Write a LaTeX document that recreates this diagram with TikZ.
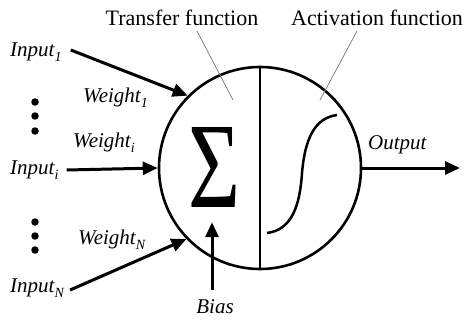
\documentclass[tikz,border=0pt]{standalone}
\usepackage{fontspec}
\setmainfont{Liberation Serif}
\usetikzlibrary{arrows.meta}
\newcommand\mysub[1]{\raisebox{-5pt}{\fontsize{14}{14}\selectfont\itshape #1}}
\tikzset{
  lbl/.style={inner sep=0pt, font=\fontsize{22}{26}\selectfont},
  ilbl/.style={inner sep=0pt, font=\fontsize{21}{25}\selectfont\itshape},
  arr/.style={line width=3pt, -{Triangle[length=15pt,width=13pt]}},
  leader/.style={gray, line width=0.8pt},
  dotnode/.style={circle, fill=black, inner sep=0pt, minimum size=7.5pt},
}
\begin{document}
\begin{tikzpicture}[x=1pt,y=-1pt]
\useasboundingbox (0,0) rectangle (469,321);
% neuron body
\node[circle, draw, line width=2.6pt, minimum size=202pt, inner sep=0pt] (neuron) at (260,168) {};
\draw[line width=2pt] (neuron.north) -- (neuron.south);
% sigma
\node[inner sep=0pt] (sigma) at (214,167) {\resizebox{52pt}{80pt}{Σ}};
% sigmoid
\draw[line width=2.5pt] (267,233) .. controls (292,230) and (300,205) .. (302,173)
   .. controls (305,138) and (315,118) .. (337,115);
% top labels
\node[lbl] (tf) at (182,18) {Transfer function};
\node[lbl] (af) at (377,18) {Activation function};
\coordinate (tfend) at (233,100);
\coordinate (afend) at (320,100);
\draw[leader] ([xshift=15pt,yshift=-5pt]tf.south) -- (tfend);
\draw[leader] ([xshift=-20pt,yshift=-5pt]af.south) -- (afend);
% inputs
\node[ilbl, anchor=west] (in1) at (10,52) {Input\mysub{1}};
\node[ilbl, anchor=west] (ini) at (10,170) {Input\mysub{i}};
\node[ilbl, anchor=west] (inN) at (10,288) {Input\mysub{N}};
\node[ilbl, anchor=west] (w1) at (83,98) {Weight\mysub{1}};
\node[ilbl, anchor=west] (wi) at (73,143) {Weight\mysub{i}};
\node[ilbl, anchor=west] (wN) at (78,240) {Weight\mysub{N}};
\node[ilbl] (bias) at (215,307) {Bias};
\node[ilbl, anchor=west] (out) at (368,145) {Output};
% dots
\node[dotnode] (d1) at (35,102) {};
\node[dotnode] (d2) at (35,116) {};
\node[dotnode] (d3) at (35,131) {};
\node[dotnode] (d4) at (35,222) {};
\node[dotnode] (d5) at (35,236) {};
\node[dotnode] (d6) at (35,250) {};
% arrows
\draw[arr] ([xshift=9pt,yshift=2pt]in1.east) -- (neuron.135.8);
\draw[arr] ([xshift=8pt]ini.east) -- (neuron.west);
\draw[arr] ([xshift=6pt,yshift=-2pt]inN.east) -- (neuron.224.6);
\draw[arr] ([xshift=-3pt,yshift=10pt]bias.north) -- ([xshift=-2pt,yshift=-15pt]sigma.south);
\coordinate (outend) at (460,168);
\draw[arr] (neuron.east) -- (outend);
\end{tikzpicture}
\end{document}
